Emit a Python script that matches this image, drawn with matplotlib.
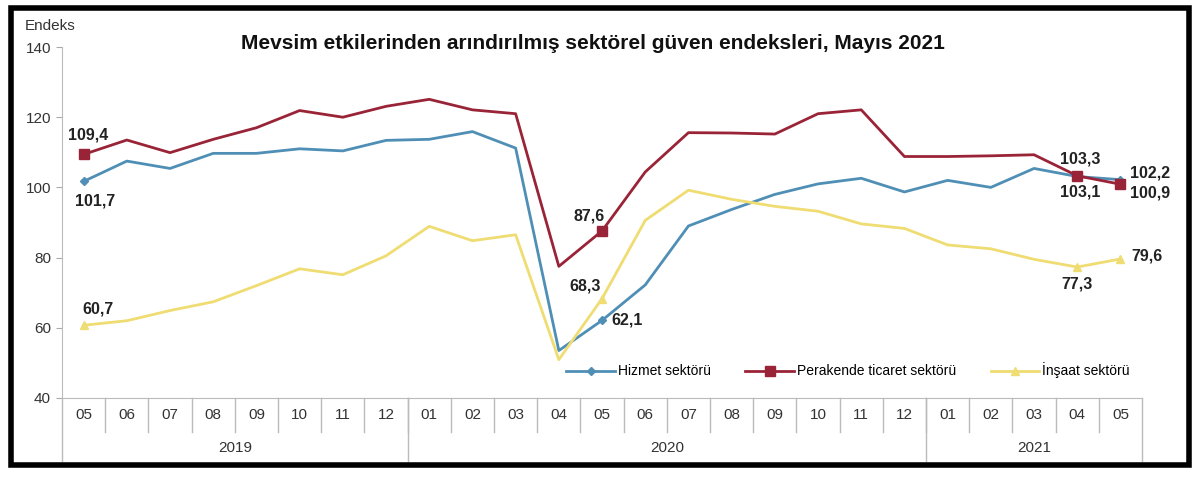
import matplotlib
matplotlib.use("Agg")
import matplotlib.pyplot as plt
from matplotlib.patches import Rectangle
import numpy as np

plt.rcParams['font.family'] = ['Liberation Sans', 'DejaVu Sans']

months = ["05", "06", "07", "08", "09", "10", "11", "12",
          "01", "02", "03", "04", "05", "06", "07", "08", "09", "10", "11", "12",
          "01", "02", "03", "04", "05"]
years = ["2019", "2020", "2021"]
year_spans = [(0, 7), (8, 19), (20, 24)]

hizmet = [101.7, 107.5, 105.4, 109.7, 109.7, 111.0, 110.4, 113.4,
          113.7, 115.9, 111.2, 53.5, 62.1, 72.2, 89.0, 93.7, 98.0, 101.0, 102.6, 98.7,
          102.0, 100.0, 105.4, 103.1, 102.2]
perakende = [109.4, 113.5, 109.9, 113.7, 117.0, 121.9, 120.0, 123.1,
             125.1, 122.1, 121.0, 77.5, 87.6, 104.4, 115.6, 115.5, 115.2, 121.0, 122.1, 108.8,
             108.8, 109.0, 109.3, 103.3, 100.9]
insaat = [60.7, 62.0, 64.9, 67.4, 72.0, 76.8, 75.1, 80.5,
          88.9, 84.8, 86.5, 50.9, 68.3, 90.6, 99.2, 96.6, 94.6, 93.2, 89.6, 88.3,
          83.6, 82.5, 79.5, 77.3, 79.6]

labeled = [0, 12, 23, 24]

c_blue = "#4f8fb5"
c_red = "#9a2437"
c_yel = "#efdc72"

fig = plt.figure(figsize=(12, 4.8), dpi=100)
ax = fig.add_axes([0.0517, 0.171, 0.9, 0.731])

x = np.arange(len(months))
ax.plot(x, hizmet, color=c_blue, lw=2, marker="D", ms=4, markevery=labeled,
        label="Hizmet sektörü")
ax.plot(x, perakende, color=c_red, lw=2, marker="s", ms=7, markevery=labeled,
        label="Perakende ticaret sektörü")
ax.plot(x, insaat, color=c_yel, lw=2, marker="^", ms=6, markevery=labeled,
        label="İnşaat sektörü")

# value labels (offsets in points)
def lab(i, v, dx, dy, ha="center"):
    ax.annotate(f"{v:.1f}".replace(".", ","), (x[i], v), xytext=(dx, dy),
                textcoords="offset points", ha=ha, va="center", fontsize=11.5,
                fontweight="bold", color="#222222")

lab(0, perakende[0], 3, 14)
lab(0, hizmet[0], 8, -14)
lab(0, insaat[0], 10, 12)
lab(12, perakende[12], -9, 11)
lab(12, hizmet[12], 7, 0, ha="left")
lab(12, insaat[12], -12, 9)
lab(23, perakende[23], 2, 12)
lab(23, hizmet[23], 2, -11)
lab(24, hizmet[24], 7, 5, ha="left")
lab(24, perakende[24], 7, -6, ha="left")
lab(23, insaat[23], 0, -12)
lab(24, insaat[24], 8, 2, ha="left")

ax.set_xlim(-0.5, len(months) - 0.5)
ax.set_ylim(40, 140)
ax.set_yticks([40, 60, 80, 100, 120, 140])
ax.tick_params(axis="y", length=4, color="#aaaaaa", labelsize=11,
               labelcolor="#333333", pad=4)
ax.set_xticks([])
for s in ["top", "right"]:
    ax.spines[s].set_visible(False)
ax.spines["left"].set_color("#bbbbbb")
ax.spines["bottom"].set_color("#bbbbbb")

# category table below axis
tr = ax.get_xaxis_transform()
row1 = -0.097
row2 = -0.18
for i in range(1, len(months)):
    ax.plot([i - 0.5, i - 0.5], [0, row1], transform=tr, color="#bbbbbb",
            lw=1, clip_on=False)
for b in [-0.5, 7.5, 19.5, 24.5]:
    ax.plot([b, b], [0, row2], transform=tr, color="#bbbbbb", lw=1,
            clip_on=False)
for i, m in enumerate(months):
    ax.text(i, -0.048, m, transform=tr, ha="center", va="center",
            fontsize=11, color="#333333")
for yname, (a, b) in zip(years, year_spans):
    ax.text((a + b) / 2, -0.142, yname, transform=tr, ha="center",
            va="center", fontsize=11, color="#333333")

ax.legend(loc="lower right", bbox_to_anchor=(1.0, 0.02), ncol=3, frameon=False,
          fontsize=10, handlelength=3.5, columnspacing=2.5, handletextpad=0.2)

fig.text(0.021, 0.937, "Endeks", fontsize=11, color="#333333")
fig.text(0.494, 0.91, "Mevsim etkilerinden arındırılmış sektörel güven endeksleri, Mayıs 2021",
         ha="center", va="center", fontsize=15, fontweight="bold", color="#111111")

fig.patches.append(Rectangle((0.009, 0.031), 0.982, 0.952, transform=fig.transFigure,
                             fill=False, lw=4, edgecolor="black"))

fig.savefig("out.png", dpi=100)
